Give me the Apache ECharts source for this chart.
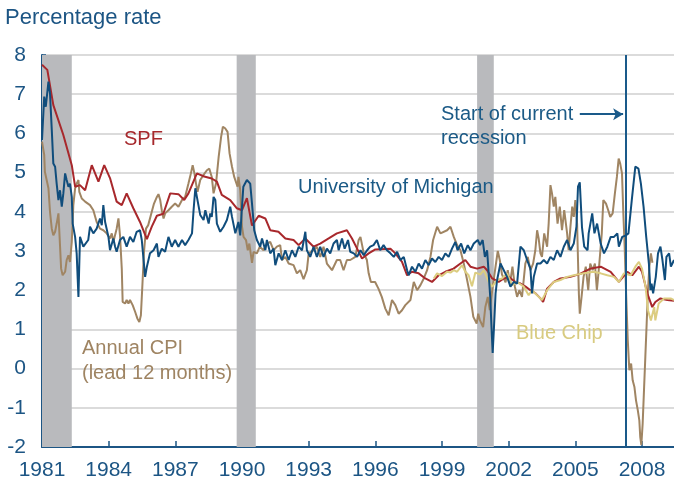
<!DOCTYPE html>
<html>
<head>
<meta charset="utf-8">
<script src="https://cdn.jsdelivr.net/npm/echarts@6/dist/echarts.min.js"></script>
<style>
	html, body { margin: 0; padding: 0; background: #fff; }
	#chart { width: 674px; height: 482px; }
</style>
</head>
<body>
<div id="chart"></div>
<script>
// tick labels on the year axis
var yearTicks = [1981, 1984, 1987, 1990, 1993, 1996, 1999, 2002, 2005, 2008];

// recession periods [start, end] as drawn
var recessions = [[1981.0, 1982.34], [1989.76, 1990.62], [2000.58, 2001.33]];
var currentRecessionStart = 2007.28;

// [year, percent]
var spf = [[1981.0,7.75],[1981.24,7.62],[1981.51,6.72],[1981.96,5.96],[1982.34,5.19],[1982.49,4.64],[1982.71,4.68],[1982.94,4.55],[1983.24,5.19],[1983.54,4.77],[1983.8,5.19],[1984.06,4.86],[1984.36,4.26],[1984.59,4.17],[1984.81,4.47],[1985.11,4.09],[1985.41,3.74],[1985.72,3.3],[1985.94,3.62],[1986.17,3.9],[1986.46,3.95],[1986.77,4.47],[1987.14,4.45],[1987.4,4.3],[1987.59,4.47],[1987.97,4.98],[1988.3,4.9],[1988.64,4.85],[1988.87,4.77],[1989.09,4.43],[1989.47,4.3],[1989.77,4.09],[1990.0,4.04],[1990.22,4.35],[1990.45,3.65],[1990.75,3.9],[1991.05,3.83],[1991.27,3.53],[1991.64,3.49],[1991.95,3.32],[1992.32,3.28],[1992.55,3.15],[1992.85,3.32],[1993.22,3.11],[1993.52,3.19],[1993.9,3.32],[1994.27,3.45],[1994.72,3.53],[1994.95,3.32],[1995.18,3.06],[1995.4,2.81],[1995.7,2.94],[1996.0,3.04],[1996.68,3.06],[1996.9,2.94],[1997.2,2.72],[1997.43,2.38],[1997.65,2.47],[1997.95,2.43],[1998.25,2.3],[1998.55,2.21],[1998.85,2.38],[1999.15,2.47],[1999.52,2.55],[1999.83,2.68],[2000.05,2.77],[2000.28,2.6],[2000.58,2.55],[2000.88,2.6],[2001.03,2.51],[2001.26,2.3],[2001.55,2.21],[2001.78,2.3],[2002.0,2.34],[2002.3,2.21],[2002.53,2.17],[2002.76,2.09],[2002.98,2.0],[2003.21,1.92],[2003.43,1.79],[2003.55,1.7],[2003.73,2.04],[2004.03,2.21],[2004.33,2.3],[2004.78,2.34],[2005.23,2.42],[2005.68,2.55],[2006.14,2.6],[2006.59,2.47],[2006.96,2.21],[2007.34,2.47],[2007.56,2.38],[2007.86,2.6],[2008.0,2.47],[2008.24,1.92],[2008.46,1.57],[2008.6,1.7],[2008.83,1.79],[2009.14,1.75],[2009.44,1.73]];

var michigan = [[1981.0,5.83],[1981.1,6.94],[1981.17,6.68],[1981.29,7.32],[1981.36,7.02],[1981.44,6.09],[1981.51,5.23],[1981.59,5.15],[1981.66,4.72],[1981.74,4.3],[1981.81,4.55],[1981.89,4.13],[1981.96,4.47],[1982.04,4.98],[1982.11,4.81],[1982.19,4.64],[1982.26,4.72],[1982.34,4.38],[1982.38,3.7],[1982.49,3.36],[1982.56,2.94],[1982.64,1.83],[1982.71,3.36],[1982.86,3.11],[1983.08,3.28],[1983.16,3.62],[1983.31,3.45],[1983.46,3.57],[1983.61,3.83],[1983.69,3.66],[1983.76,4.17],[1983.84,3.74],[1983.99,3.36],[1984.06,3.02],[1984.21,3.32],[1984.29,3.11],[1984.36,2.98],[1984.51,3.28],[1984.66,3.36],[1984.81,3.11],[1984.96,3.36],[1985.11,3.23],[1985.26,3.49],[1985.41,3.53],[1985.49,3.28],[1985.64,2.34],[1985.72,2.6],[1985.86,2.94],[1986.02,3.02],[1986.17,3.19],[1986.24,2.85],[1986.39,3.06],[1986.54,2.98],[1986.69,3.36],[1986.84,3.11],[1986.99,3.28],[1987.14,3.11],[1987.3,3.28],[1987.44,3.15],[1987.59,3.28],[1987.75,3.45],[1987.82,4.04],[1987.9,4.6],[1987.97,4.38],[1988.12,3.92],[1988.27,3.79],[1988.35,4.04],[1988.5,3.7],[1988.57,3.96],[1988.64,3.87],[1988.72,4.38],[1988.8,4.3],[1988.87,3.7],[1989.02,3.49],[1989.17,3.62],[1989.32,3.79],[1989.47,4.13],[1989.55,3.87],[1989.7,3.45],[1989.84,3.74],[1989.92,3.4],[1989.99,4.04],[1990.06,4.64],[1990.22,4.81],[1990.37,4.72],[1990.45,4.21],[1990.55,3.53],[1990.67,3.28],[1990.82,3.11],[1990.9,3.32],[1991.05,3.02],[1991.12,3.28],[1991.27,2.94],[1991.42,3.06],[1991.5,2.64],[1991.65,2.94],[1991.8,2.77],[1991.95,3.02],[1992.1,2.77],[1992.25,3.02],[1992.4,2.85],[1992.55,3.11],[1992.7,3.02],[1992.85,3.49],[1992.92,3.02],[1993.07,2.85],[1993.22,3.11],[1993.37,2.85],[1993.52,3.11],[1993.67,2.85],[1993.82,3.06],[1993.97,2.94],[1994.12,3.19],[1994.27,3.28],[1994.35,3.02],[1994.5,3.32],[1994.62,3.06],[1994.77,3.28],[1994.87,2.98],[1995.03,2.94],[1995.18,2.85],[1995.33,3.02],[1995.48,2.89],[1995.63,3.02],[1995.77,3.11],[1995.92,3.15],[1996.07,3.28],[1996.22,3.02],[1996.37,3.15],[1996.52,3.02],[1996.68,2.94],[1996.83,2.85],[1996.98,2.98],[1997.13,2.77],[1997.28,2.85],[1997.43,2.51],[1997.5,2.38],[1997.65,2.6],[1997.8,2.47],[1997.95,2.68],[1998.1,2.55],[1998.25,2.77],[1998.4,2.64],[1998.55,2.81],[1998.7,2.72],[1998.85,2.85],[1999.0,2.77],[1999.15,2.94],[1999.3,2.85],[1999.45,3.06],[1999.6,3.23],[1999.7,3.02],[1999.86,3.19],[2000.0,2.94],[2000.16,3.15],[2000.28,3.02],[2000.43,3.19],[2000.61,3.28],[2000.71,3.15],[2000.83,3.28],[2000.93,2.85],[2001.03,3.02],[2001.1,2.43],[2001.17,1.83],[2001.22,1.15],[2001.28,0.4],[2001.34,1.06],[2001.41,1.92],[2001.48,2.26],[2001.63,2.68],[2001.78,2.51],[2001.93,2.34],[2002.08,2.09],[2002.23,2.21],[2002.38,2.17],[2002.53,3.11],[2002.68,3.02],[2002.83,2.77],[2002.98,2.55],[2003.05,1.92],[2003.13,2.34],[2003.28,2.68],[2003.43,2.68],[2003.58,2.77],[2003.73,2.68],[2003.88,2.85],[2004.03,2.77],[2004.18,3.02],[2004.33,2.85],[2004.48,3.11],[2004.63,3.28],[2004.78,3.02],[2004.93,3.19],[2005.05,3.62],[2005.12,4.64],[2005.2,4.75],[2005.3,3.6],[2005.4,3.11],[2005.55,3.02],[2005.6,3.45],[2005.76,3.96],[2005.86,3.45],[2005.98,3.7],[2006.14,3.19],[2006.29,2.94],[2006.44,3.11],[2006.59,3.36],[2006.74,3.36],[2006.89,3.45],[2006.96,3.11],[2007.11,3.36],[2007.28,3.4],[2007.39,3.45],[2007.54,4.3],[2007.7,5.15],[2007.84,5.1],[2007.95,4.72],[2008.07,4.13],[2008.19,3.36],[2008.31,2.68],[2008.38,2.0],[2008.43,2.17],[2008.5,1.92],[2008.62,2.34],[2008.72,2.94],[2008.83,3.11],[2008.92,2.77],[2009.03,2.26],[2009.1,2.85],[2009.22,2.94],[2009.3,2.6],[2009.44,2.77]];

var annualCpi = [[1981.0,5.79],[1981.1,5.45],[1981.13,5.02],[1981.21,4.81],[1981.29,4.6],[1981.36,4.0],[1981.44,3.57],[1981.51,3.4],[1981.59,3.49],[1981.66,3.7],[1981.74,3.96],[1981.81,3.15],[1981.86,2.55],[1981.93,2.38],[1982.04,2.47],[1982.11,2.77],[1982.19,2.89],[1982.26,2.72],[1982.34,3.23],[1982.41,4.17],[1982.49,4.6],[1982.56,4.72],[1982.64,4.81],[1982.68,4.51],[1982.79,4.34],[1982.94,4.26],[1983.16,4.17],[1983.31,4.04],[1983.46,3.74],[1983.61,3.57],[1983.76,3.53],[1983.91,3.45],[1984.06,3.32],[1984.14,3.45],[1984.21,3.23],[1984.36,3.57],[1984.44,3.83],[1984.51,3.4],[1984.59,2.55],[1984.63,1.7],[1984.74,1.66],[1984.81,1.75],[1984.89,1.66],[1984.96,1.75],[1985.08,1.62],[1985.19,1.45],[1985.29,1.28],[1985.38,1.19],[1985.45,1.36],[1985.51,2.04],[1985.59,2.98],[1985.68,3.57],[1985.78,3.66],[1985.94,4.0],[1986.04,4.21],[1986.17,4.38],[1986.24,4.45],[1986.32,4.3],[1986.39,4.04],[1986.47,3.83],[1986.54,3.96],[1986.69,4.04],[1986.84,4.13],[1986.99,4.21],[1987.14,4.13],[1987.3,4.3],[1987.44,4.38],[1987.59,4.72],[1987.7,4.98],[1987.78,5.19],[1987.86,4.98],[1987.93,4.72],[1988.0,4.51],[1988.12,4.81],[1988.27,4.94],[1988.42,5.06],[1988.53,5.1],[1988.64,4.89],[1988.72,4.47],[1988.83,4.72],[1988.95,5.4],[1989.06,5.91],[1989.14,6.17],[1989.24,6.13],[1989.35,6.04],[1989.44,5.49],[1989.55,5.15],[1989.65,4.89],[1989.74,4.85],[1989.8,4.64],[1989.84,4.89],[1989.92,4.55],[1990.0,3.62],[1990.07,3.36],[1990.18,3.28],[1990.26,3.02],[1990.33,3.19],[1990.45,2.7],[1990.52,2.98],[1990.67,2.94],[1990.8,3.11],[1990.97,3.02],[1991.12,3.19],[1991.27,3.23],[1991.42,3.02],[1991.57,3.11],[1991.72,3.15],[1991.8,2.77],[1991.95,2.85],[1992.1,2.68],[1992.32,2.64],[1992.47,2.43],[1992.62,2.51],[1992.77,2.28],[1992.92,2.51],[1993.0,2.94],[1993.22,3.02],[1993.37,3.11],[1993.52,2.85],[1993.67,3.11],[1993.82,2.68],[1994.05,2.51],[1994.27,2.77],[1994.42,2.77],[1994.57,2.51],[1994.72,2.77],[1994.87,2.77],[1995.1,2.85],[1995.25,3.28],[1995.33,3.36],[1995.48,2.94],[1995.62,2.77],[1995.7,2.43],[1995.8,2.21],[1995.99,2.21],[1996.14,2.04],[1996.29,1.83],[1996.45,1.53],[1996.6,1.36],[1996.75,1.75],[1996.9,1.62],[1997.05,1.4],[1997.2,1.49],[1997.35,1.62],[1997.58,1.75],[1997.73,2.21],[1997.88,2.0],[1998.03,2.13],[1998.18,2.3],[1998.33,2.51],[1998.48,2.85],[1998.6,3.28],[1998.78,3.62],[1998.93,3.45],[1999.23,3.53],[1999.38,3.62],[1999.53,3.36],[1999.68,3.15],[1999.83,3.02],[1999.98,2.68],[2000.13,2.26],[2000.28,1.83],[2000.41,1.32],[2000.56,1.15],[2000.63,1.4],[2000.71,1.23],[2000.85,1.06],[2000.95,1.57],[2001.06,1.83],[2001.15,1.49],[2001.26,2.0],[2001.41,2.6],[2001.51,3.0],[2001.6,2.77],[2001.7,2.4],[2001.86,2.2],[2001.96,2.51],[2002.06,2.17],[2002.17,2.6],[2002.28,2.09],[2002.38,1.83],[2002.48,2.0],[2002.6,1.83],[2002.75,2.68],[2002.86,2.85],[2002.98,2.51],[2003.1,2.68],[2003.2,3.02],[2003.28,3.53],[2003.35,3.32],[2003.43,2.94],[2003.5,2.85],[2003.6,3.45],[2003.73,3.11],[2003.8,3.7],[2003.88,4.68],[2003.95,4.47],[2004.03,4.13],[2004.1,4.38],[2004.2,3.7],[2004.3,4.13],[2004.4,3.53],[2004.5,4.04],[2004.63,3.45],[2004.7,3.02],[2004.78,3.62],[2004.86,4.13],[2004.93,3.87],[2005.0,4.3],[2005.08,3.7],[2005.12,2.77],[2005.16,1.9],[2005.2,1.4],[2005.28,1.83],[2005.37,2.34],[2005.47,2.6],[2005.58,2.0],[2005.67,2.68],[2005.78,2.51],[2005.88,2.68],[2005.97,2.0],[2006.08,2.68],[2006.19,3.45],[2006.26,4.3],[2006.38,4.21],[2006.48,4.04],[2006.57,3.87],[2006.68,3.96],[2006.78,4.47],[2006.87,4.89],[2006.95,5.36],[2007.02,5.23],[2007.1,4.98],[2007.16,3.96],[2007.22,3.11],[2007.28,2.0],[2007.36,0.72],[2007.43,-0.04],[2007.51,0.13],[2007.58,-0.3],[2007.66,-0.47],[2007.73,-0.81],[2007.81,-1.06],[2007.88,-1.32],[2007.92,-1.74],[2007.97,-1.95],[2008.03,-1.4],[2008.09,-0.55],[2008.15,0.3],[2008.21,1.15],[2008.27,2.0],[2008.33,2.6],[2008.4,2.94],[2008.47,2.7]];

var blueChip = [[1998.63,2.3],[1998.78,2.43],[1999.0,2.36],[1999.23,2.47],[1999.38,2.45],[1999.53,2.51],[1999.68,2.47],[1999.9,2.64],[1999.97,2.66],[2000.05,2.47],[2000.2,2.38],[2000.35,2.1],[2000.5,2.45],[2000.72,2.4],[2000.88,2.51],[2001.1,2.21],[2001.26,2.09],[2001.48,2.26],[2001.7,2.3],[2001.93,2.43],[2002.15,2.13],[2002.38,2.21],[2002.68,2.09],[2002.9,1.87],[2003.05,2.0],[2003.28,1.87],[2003.5,1.75],[2003.73,2.0],[2004.03,2.21],[2004.33,2.26],[2004.63,2.34],[2004.93,2.38],[2005.38,2.43],[2005.83,2.47],[2006.14,2.43],[2006.44,2.38],[2006.74,2.34],[2006.96,2.21],[2007.19,2.43],[2007.49,2.38],[2007.7,2.6],[2007.86,2.72],[2008.0,2.55],[2008.16,2.09],[2008.27,1.49],[2008.4,1.23],[2008.55,1.57],[2008.6,1.23],[2008.75,1.66],[2008.99,1.79],[2009.29,1.79],[2009.44,1.75]];

var FONT = '"Liberation Sans", Arial, sans-serif';
var AXIS_BLUE = '#1c5584';

var chart = echarts.init(document.getElementById('chart'));

function lineSeries(name, data, color, z) {
	return {
		name: name,
		type: 'line',
		data: data,
		showSymbol: false,
		symbol: 'none',
		z: z,
		lineStyle: { color: color, width: 2 },
		silent: true
	};
}

// text sitting on the plot
function note(text, x, y, color, size) {
	return {
		type: 'text',
		x: x,
		y: y,
		style: {
			text: text,
			fill: color,
			font: (size || 20) + 'px ' + FONT,
			verticalAlign: 'middle'
		},
		z: 100
	};
}

chart.setOption({
	animation: false,
	grid: { left: 42, right: 0, top: 55, bottom: 35 },
	xAxis: {
		type: 'value',
		min: 1981,
		max: 2009.44,
		interval: 3,
		axisLine: { show: true, onZero: false, lineStyle: { color: AXIS_BLUE, width: 2 } },
		axisTick: { show: true, inside: true, length: 6, lineStyle: { color: AXIS_BLUE, width: 1.5 } },
		splitLine: { show: false },
		axisLabel: {
			color: AXIS_BLUE,
			fontSize: 21,
			fontFamily: FONT,
			margin: 13,
			showMaxLabel: false,
			formatter: function (v) {
				return yearTicks.indexOf(v) > -1 ? String(v) : '';
			}
		}
	},
	yAxis: {
		type: 'value',
		min: -2,
		max: 8,
		interval: 1,
		axisLine: { show: true, onZero: false, lineStyle: { color: AXIS_BLUE, width: 2 } },
		axisTick: { show: true, inside: true, length: 4, lineStyle: { color: AXIS_BLUE, width: 1.5 } },
		splitLine: { show: true, lineStyle: { color: '#cfcfcf', width: 1.5 } },
		axisLabel: { color: AXIS_BLUE, fontSize: 21, fontFamily: FONT, margin: 16 }
	},
	graphic: [
		note('Percentage rate', 5, 18, AXIS_BLUE, 22),
		note('SPF', 124, 139, '#a6282c'),
		note('University of Michigan', 298, 187, '#1b5a86'),
		note('Annual CPI', 82, 348, '#9f8462'),
		note('(lead 12 months)', 82, 373, '#9f8462'),
		note('Blue Chip', 516, 333, '#d8cb80'),
		note('Start of current', 441, 114, '#1b5a86'),
		note('recession', 441, 138, '#1b5a86')
	],
	series: [
		{
			// recession shading
			type: 'line',
			data: [],
			z: 1,
			silent: true,
			markArea: {
				silent: true,
				itemStyle: { color: '#b9babd', opacity: 1 },
				data: recessions.map(function (r) {
					return [{ xAxis: r[0] }, { xAxis: r[1] }];
				})
			}
		},
		lineSeries('Annual CPI', annualCpi, '#a08563', 2),
		lineSeries('SPF', spf, '#a8282c', 3),
		lineSeries('Blue Chip', blueChip, '#dccd80', 4),
		lineSeries('University of Michigan', michigan, '#104d7c', 5),
		{
			// start of current recession and its arrow
			type: 'line',
			data: [],
			z: 6,
			silent: true,
			markLine: {
				silent: true,
				symbol: 'none',
				label: { show: false },
				lineStyle: { color: '#1a5a8a', width: 2, type: 'solid' },
				data: [
					{ xAxis: currentRecessionStart },
					[
						{ coord: [2005.2, 6.49], symbol: 'none' },
						{ coord: [2007.15, 6.49], symbol: 'arrow', symbolSize: [9, 10] }
					]
				]
			}
		}
	]
});
</script>
</body>
</html>
